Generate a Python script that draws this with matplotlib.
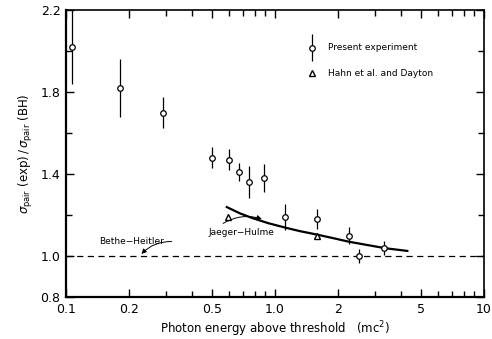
import matplotlib
matplotlib.use("Agg")
import matplotlib.pyplot as plt
from matplotlib.ticker import FixedLocator, NullFormatter, LogLocator

# Present experiment
exp_x = [0.107, 0.182, 0.292, 0.498, 0.600, 0.674, 0.752, 0.889, 1.12, 1.58, 2.25, 2.53, 3.34]
exp_y = [2.02, 1.82, 1.70, 1.48, 1.47, 1.41, 1.36, 1.38, 1.19, 1.18, 1.10, 1.00, 1.04]
exp_err = [0.18, 0.14, 0.075, 0.05, 0.05, 0.045, 0.077, 0.07, 0.063, 0.047, 0.04, 0.035, 0.035]

# Hahn et al. and Dayton
hd_x = [0.593, 1.59]
hd_y = [1.19, 1.098]

# Jaeger-Hulme theory curve
jh_x = [0.582, 0.68, 0.78, 0.93, 1.125, 1.32, 1.563, 1.9, 2.25, 2.75, 3.37, 4.35]
jh_y = [1.241, 1.208, 1.185, 1.160, 1.138, 1.121, 1.106, 1.087, 1.070, 1.054, 1.038, 1.024]

# Bethe-Heitler
bh_level = 1.0

xticks = [0.1, 0.2, 0.5, 1.0, 2, 5, 10]
xticklabels = ["0.1", "0.2", "0.5", "1.0", "2", "5", "10"]
yticks = [0.8, 1.0, 1.4, 1.8, 2.2]
yticklabels = ["0.8", "1.0", "1.4", "1.8", "2.2"]
yminor = [1.2, 1.6, 2.0]

plt.rcParams['font.family'] = ['DejaVu Sans']
fig = plt.figure(figsize=(4.92, 3.39), dpi=100)
L, R = 66 / 492, 484 / 492
ax = fig.add_axes([L, 0.124, R - L, 0.846])

ax.set_xscale('log')
ax.set_xlim(0.1, 10)
ax.set_ylim(0.8, 2.2)

ax.axhline(bh_level, color='black', lw=0.9, dashes=(5, 3.5))

ax.plot(jh_x, jh_y, color='black', lw=1.6, solid_capstyle='butt')

ax.errorbar(exp_x, exp_y, yerr=exp_err, fmt='o', ms=4, mfc='white', mec='black',
            mew=0.9, ecolor='black', elinewidth=0.9, capsize=0, zorder=5)
ax.plot(hd_x, hd_y, '^', ms=5, mfc='white', mec='black', mew=1.0, zorder=6)

# Legend (manual)
lx = 10 ** (-1 + (311 - 66) / 208)
ax.errorbar([lx], [2.016], yerr=[0.066], fmt='o', ms=4, mfc='white', mec='black',
            mew=0.9, ecolor='black', elinewidth=0.9, capsize=0, zorder=5)
ax.plot([lx], [1.893], '^', ms=5, mfc='white', mec='black', mew=1.0)
tx = 10 ** (-1 + (327 - 66) / 208)
ax.text(tx, 2.016, "Present experiment", fontsize=6.5, va='center', ha='left')
ax.text(tx, 1.893, "Hahn et al. and Dayton", fontsize=6.5, va='center', ha='left')

# Annotations
ax.annotate("", xy=(0.225, 1.0), xytext=(0.33, 1.07),
            arrowprops=dict(arrowstyle='-|>', color='black', lw=0.7,
                            connectionstyle='arc3,rad=0.25', mutation_scale=7))
ax.text(0.205, 1.07, "Bethe\u2212Heitler", fontsize=6.5, ha='center', va='center')
ax.annotate("", xy=(0.89, 1.176), xytext=(0.55, 1.152),
            arrowprops=dict(arrowstyle='-|>', color='black', lw=0.7,
                            connectionstyle='arc3,rad=-0.25', mutation_scale=7))
ax.text(0.69, 1.117, "Jaeger\u2212Hulme", fontsize=6.5, ha='center', va='center')

ax.xaxis.set_major_locator(FixedLocator(xticks))
ax.set_xticklabels(xticklabels)
ax.xaxis.set_minor_locator(LogLocator(base=10, subs=range(2, 10)))
ax.xaxis.set_minor_formatter(NullFormatter())
ax.set_yticks(yticks)
ax.set_yticklabels(yticklabels)
ax.yaxis.set_minor_locator(FixedLocator(yminor))

ax.tick_params(which='both', direction='in', top=True, right=True, labelsize=9, width=1.0)
ax.tick_params(which='major', length=6, pad=4)
ax.tick_params(which='minor', length=4)

for s in ax.spines.values():
    s.set_linewidth(1.2)
ax.spines['left'].set_linewidth(1.6)
ax.spines['bottom'].set_linewidth(1.6)

ax.set_xlabel("Photon energy above threshold   (mc$^2$)", fontsize=8.5, labelpad=3)
ax.set_ylabel(r"$\sigma_{\mathrm{pair}}$ (exp)$\,/\,\sigma_{\mathrm{pair}}$ (BH)", fontsize=8.5, labelpad=4)

fig.savefig("out.png", dpi=100)
